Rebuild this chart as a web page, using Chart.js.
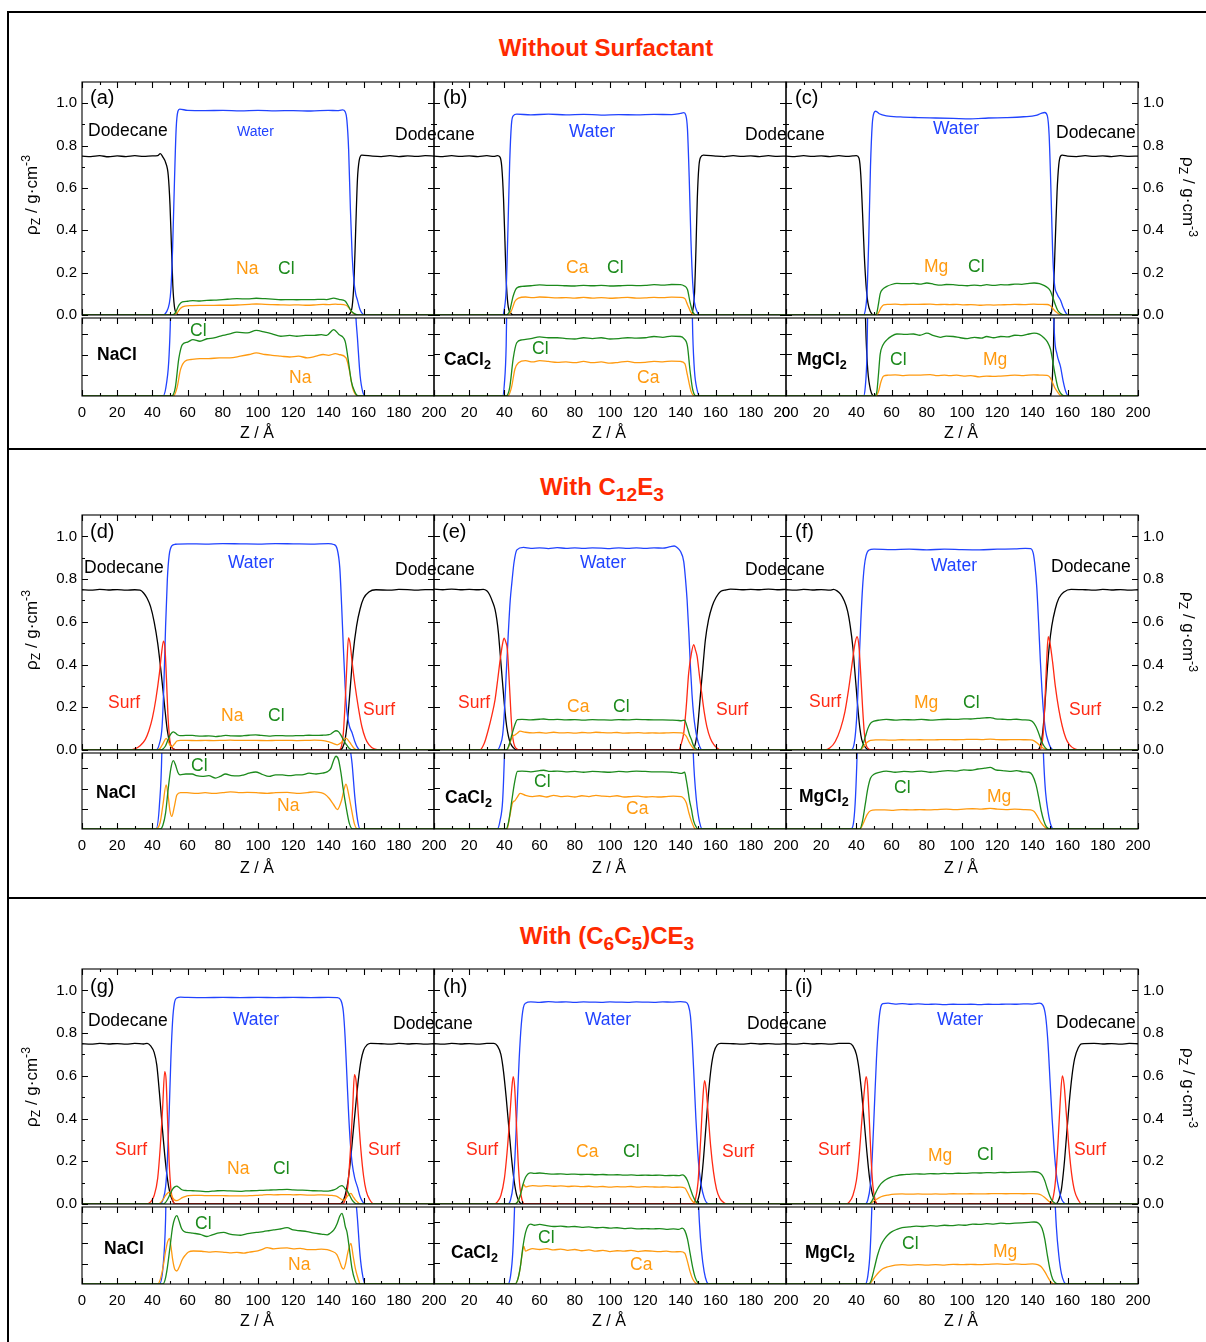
<!DOCTYPE html>
<html>
<head>
<meta charset="utf-8">
<script src="https://cdn.jsdelivr.net/npm/chart.js@4.4.1/dist/chart.umd.min.js"></script>
<style>
  body { margin: 0; background: #fff; }
  #page { position: relative; width: 1206px; height: 1342px; overflow: hidden; font-family: "Liberation Sans", Arial, sans-serif; }
  canvas { position: absolute; }
  .t { position: absolute; white-space: nowrap; line-height: 1; transform: translateY(-50%); font-size: 17.5px; }
  .c { transform: translate(-50%, -50%); }
  .rl { transform: translate(-50%, -50%) rotate(-90deg); font-size: 17px; }
  .rr { transform: translate(-50%, -50%) rotate(90deg); font-size: 17px; }
  .title { color: #ff2a00; font-weight: bold; font-size: 24px; }
  .title sub { font-size: 0.8em; vertical-align: -0.3em; line-height: 0; }
  sub { font-size: 0.72em; vertical-align: -0.3em; line-height: 0; }
  sup { font-size: 0.72em; vertical-align: 0.55em; line-height: 0; }
  .hl { position: absolute; background: #000; }
</style>
</head>
<body>
<div id="page"></div>
<script>
// ---- ticks ----
const zTicks = [0, 20, 40, 60, 80, 100, 120, 140, 160, 180, 200];
const zMinorTicks = [10, 30, 50, 70, 90, 110, 130, 150, 170, 190];
const rhoTicks = [0, 0.2, 0.4, 0.6, 0.8, 1.0];
const rhoMinorTicks = [0.1, 0.3, 0.5, 0.7, 0.9];
const subTicksNaCl = [0.025, 0.05, 0.075];
const subTicksDiv = [0.05, 0.1, 0.15];

// ---- (a) NaCl, no surfactant ----
const dodecaneA = [[0,0.75],[5,0.748],[10,0.752],[15,0.747],[20,0.751],[25,0.748],[30,0.752],[35,0.749],[40,0.751],[43,0.752],[44.5,0.762],[46,0.745],[47.5,0.72],[49,0.66],[50,0.52],[50.8,0.33],[51.6,0.14],[52.5,0.04],[54,0.005],[56,0],[151,0],[152.5,0.01],[153.5,0.04],[154.5,0.15],[155.5,0.4],[156.5,0.64],[157.5,0.73],[159,0.755],[165,0.75],[170,0.748],[175,0.752],[180,0.748],[185,0.751],[190,0.749],[195,0.752],[200,0.75]];
const waterA = [[0,0],[46,0],[48,0.015],[49.5,0.05],[50.5,0.12],[51.5,0.32],[52.5,0.62],[53.5,0.88],[54.5,0.962],[55.5,0.972],[60,0.966],[70,0.965],[80,0.966],[90,0.964],[100,0.966],[110,0.964],[120,0.965],[130,0.963],[140,0.966],[145,0.965],[148,0.968],[149.5,0.96],[150.5,0.92],[151.5,0.78],[152.5,0.5],[153.5,0.28],[154.5,0.16],[155.5,0.1],[156.5,0.07],[158,0.025],[159.5,0.005],[161,0],[200,0]];
const clA = [[0,0],[51,0],[53,0.01],[55,0.045],[57,0.062],[60,0.065],[63,0.068],[67,0.066],[71,0.069],[75,0.07],[80,0.073],[84,0.075],[88,0.077],[94,0.076],[99,0.079],[104,0.077],[108,0.075],[113,0.072],[118,0.073],[122,0.072],[127,0.073],[132,0.073],[136,0.074],[139,0.073],[143,0.08],[146,0.074],[149.5,0.066],[151.5,0.04],[153,0.018],[155,0.005],[157,0],[200,0]];
const naA = [[0,0],[52,0],[54,0.01],[56,0.032],[58.5,0.042],[62,0.044],[67,0.045],[72,0.045],[78,0.046],[84,0.046],[90,0.048],[95,0.05],[99,0.052],[104,0.05],[108,0.049],[113,0.048],[118,0.047],[123,0.048],[128,0.046],[133,0.048],[137,0.05],[140,0.049],[144,0.051],[146,0.05],[150,0.046],[152,0.03],[153.6,0.011],[155,0.003],[157,0],[200,0]];

// ---- (b) CaCl2, no surfactant ----
const dodecaneB = [[0,0.75],[5,0.748],[10,0.752],[15,0.749],[20,0.751],[25,0.748],[30,0.752],[34,0.749],[36,0.752],[37.5,0.745],[38.5,0.7],[39.5,0.55],[40.3,0.35],[41,0.17],[42,0.05],[43.5,0.01],[45,0],[146,0],[147,0.02],[148,0.1],[148.8,0.3],[149.6,0.55],[150.5,0.7],[151.5,0.745],[153,0.755],[160,0.75],[165,0.748],[170,0.752],[175,0.749],[180,0.751],[185,0.748],[190,0.752],[195,0.749],[200,0.75]];
const waterB = [[0,0],[39,0],[40,0.03],[41,0.12],[42,0.4],[43,0.72],[44,0.9],[45,0.94],[47,0.948],[55,0.945],[65,0.948],[75,0.945],[85,0.947],[95,0.944],[105,0.946],[115,0.945],[125,0.947],[135,0.946],[140,0.952],[142,0.955],[143,0.945],[144,0.88],[145,0.65],[146,0.35],[147,0.15],[148,0.06],[149.5,0.015],[151,0],[200,0]];
const clB = [[0,0],[41,0],[43,0.02],[45,0.09],[47,0.128],[50,0.135],[55,0.138],[60,0.142],[65,0.14],[70,0.14],[75,0.138],[80,0.137],[85,0.14],[90,0.138],[95,0.14],[100,0.137],[105,0.138],[110,0.14],[115,0.139],[120,0.14],[125,0.143],[130,0.141],[135,0.144],[140,0.143],[142,0.138],[144,0.12],[145.5,0.06],[147,0.015],[149,0],[200,0]];
const caB = [[0,0],[42,0],[44,0.02],[46,0.065],[48,0.08],[52,0.085],[56,0.082],[60,0.085],[65,0.083],[70,0.081],[75,0.082],[80,0.08],[85,0.083],[90,0.08],[95,0.082],[100,0.079],[105,0.081],[110,0.083],[115,0.08],[120,0.081],[125,0.083],[130,0.082],[135,0.084],[140,0.083],[142.5,0.078],[144,0.05],[146,0.012],[148,0],[200,0]];

// ---- (c) MgCl2, no surfactant ----
const dodecaneC = [[0,0.75],[5,0.748],[10,0.752],[15,0.749],[20,0.751],[25,0.748],[30,0.752],[35,0.749],[38,0.751],[40,0.752],[41.5,0.74],[42.5,0.66],[43.5,0.48],[44.5,0.28],[45.5,0.14],[46.5,0.06],[48,0.015],[50,0],[150,0],[151,0.02],[152,0.12],[153,0.35],[154,0.58],[155,0.71],[156,0.75],[157,0.755],[160,0.75],[165,0.748],[170,0.752],[175,0.749],[180,0.751],[185,0.748],[190,0.752],[195,0.749],[200,0.75]];
const waterC = [[0,0],[44,0],[45,0.02],[46,0.1],[47,0.35],[48,0.7],[49,0.9],[50,0.955],[51,0.962],[53,0.95],[57,0.94],[65,0.935],[75,0.932],[85,0.93],[95,0.928],[105,0.926],[115,0.93],[125,0.932],[135,0.936],[142,0.942],[145,0.952],[147,0.956],[148.5,0.94],[149.5,0.85],[150.5,0.6],[151.5,0.3],[152.5,0.15],[154,0.1],[156,0.07],[157.5,0.035],[159,0.01],[160.5,0],[200,0]];
const clC = [[0,0],[50.5,0],[51.6,0.01],[52.5,0.05],[53.5,0.1],[55,0.122],[57.3,0.135],[60,0.144],[63,0.149],[68,0.148],[72.5,0.149],[76,0.146],[80,0.151],[84,0.145],[87.7,0.141],[91,0.144],[95,0.143],[99,0.14],[103,0.138],[107,0.141],[111,0.139],[114,0.143],[118,0.14],[122,0.143],[126,0.142],[130,0.146],[134,0.145],[137,0.148],[141,0.151],[144,0.148],[146.5,0.14],[148.5,0.13],[150.3,0.112],[151.7,0.08],[153.1,0.047],[154.5,0.02],[156,0.007],[158.5,0],[200,0]];
const mgC = [[0,0],[51,0],[52.5,0.01],[54,0.035],[55.5,0.048],[58,0.05],[62,0.051],[66,0.049],[70,0.05],[75,0.05],[81.9,0.0515],[86,0.049],[90,0.05],[93,0.049],[97,0.05],[101,0.048],[105,0.049],[110,0.046],[114,0.048],[118,0.047],[122,0.048],[126,0.049],[130,0.05],[135,0.049],[140.8,0.051],[145,0.05],[148.4,0.0495],[150,0.045],[151.2,0.035],[152.7,0.02],[154.1,0.011],[155.5,0.003],[157,0],[200,0]];

// ---- (d) NaCl, C12E3 ----
const dodecaneD = [[0,0.75],[5,0.748],[10,0.752],[15,0.749],[20,0.751],[25,0.748],[30,0.75],[33,0.748],[35,0.735],[37,0.71],[39,0.67],[41,0.6],[43,0.5],[45,0.36],[47,0.2],[48.5,0.09],[50,0.03],[52,0.005],[55,0],[146,0],[148,0.01],[149.5,0.05],[151,0.15],[152.5,0.3],[154,0.45],[156,0.58],[158,0.66],[160,0.71],[163,0.74],[167,0.75],[175,0.748],[180,0.752],[185,0.751],[190,0.748],[195,0.751],[200,0.75]];
const waterD = [[0,0],[42,0],[44,0.03],[45.5,0.11],[46.5,0.3],[47.5,0.58],[48.5,0.8],[49.5,0.91],[51,0.955],[53,0.963],[60,0.965],[70,0.964],[80,0.966],[90,0.965],[100,0.964],[110,0.966],[120,0.965],[130,0.964],[140,0.966],[143,0.962],[145,0.94],[146.5,0.85],[147.5,0.68],[148.5,0.48],[149.5,0.3],[150.5,0.18],[152,0.11],[153.5,0.08],[155,0.04],[156.5,0.012],[158,0],[200,0]];
const surfD = [[0,0],[27,0],[30,0.005],[33,0.02],[36,0.05],[38,0.09],[40,0.15],[42,0.24],[44,0.36],[45.3,0.46],[46.3,0.51],[47.2,0.47],[48,0.33],[48.8,0.17],[49.6,0.07],[50.5,0.02],[52,0.005],[55,0],[146,0],[147.5,0.02],[148.5,0.08],[149.5,0.22],[150.5,0.4],[151.4,0.525],[152.3,0.5],[153.5,0.41],[155,0.31],[157,0.2],[159,0.11],[161,0.055],[163,0.025],[166,0.005],[170,0],[200,0]];
const clD = [[0,0],[44.5,0],[46,0.005],[47.5,0.02],[49,0.05],[50.5,0.075],[51.9,0.0845],[53,0.08],[54.5,0.07],[55.7,0.067],[59,0.068],[62.6,0.068],[65,0.066],[68.3,0.065],[72,0.066],[75.9,0.063],[78.5,0.065],[81.6,0.068],[85,0.066],[89.2,0.0656],[92,0.067],[94.9,0.069],[98.7,0.0705],[102,0.068],[106.3,0.065],[110,0.067],[113.9,0.0669],[118,0.066],[121.5,0.0669],[125,0.067],[129,0.069],[133,0.068],[136.6,0.069],[139.5,0.071],[141.4,0.075],[143,0.085],[144.3,0.09],[145.7,0.086],[147.1,0.07],[148.5,0.048],[150,0.028],[151.9,0.007],[153.8,0],[200,0]];
const naD = [[0,0],[42,0],[44.4,0.008],[46,0.03],[47.8,0.0546],[49,0.04],[50,0.022],[51,0.0155],[52.5,0.028],[53.9,0.042],[56,0.045],[59.6,0.045],[65,0.044],[70,0.045],[74.8,0.044],[80,0.045],[84.3,0.046],[89,0.045],[93.8,0.0452],[99,0.045],[105.2,0.044],[110,0.045],[116.6,0.0452],[122,0.044],[128,0.045],[132,0.046],[135.6,0.045],[138,0.043],[140.4,0.038],[143,0.03],[145.1,0.024],[147.4,0.035],[149,0.05],[150,0.0554],[151.3,0.045],[152.8,0.028],[154.7,0.007],[156.6,0],[200,0]];

// ---- (e) CaCl2, C12E3 ----
const dodecaneE = [[0,0.753],[5,0.75],[10,0.753],[15,0.75],[20,0.752],[25,0.75],[28,0.752],[30,0.745],[31.6,0.727],[33.2,0.695],[34.7,0.657],[35.7,0.61],[36.6,0.548],[37.5,0.46],[38.5,0.36],[39.5,0.26],[40.4,0.175],[41.3,0.11],[42.3,0.064],[43.5,0.03],[45.2,0.01],[47,0],[147,0],[148.5,0.03],[149.5,0.08],[150.6,0.18],[151.8,0.298],[153,0.41],[154.2,0.516],[156,0.61],[158,0.672],[160.3,0.715],[162.8,0.742],[166,0.75],[168.5,0.753],[175,0.75],[180,0.752],[185,0.75],[190,0.753],[195,0.75],[200,0.752]];
const waterE = [[0,0],[36,0],[37.5,0.02],[39,0.07],[40,0.18],[41,0.35],[42.3,0.56],[43.3,0.7],[44.2,0.78],[45.5,0.88],[47.1,0.937],[50.8,0.948],[55,0.944],[60,0.946],[65,0.943],[70,0.947],[75,0.944],[80,0.946],[85,0.944],[90,0.946],[95,0.945],[100,0.943],[105,0.946],[110,0.944],[115,0.946],[120,0.944],[125,0.946],[130,0.945],[134.3,0.952],[136.5,0.955],[138.1,0.948],[140,0.93],[141.9,0.882],[142.9,0.8],[143.8,0.703],[144.8,0.55],[145.7,0.39],[146.6,0.26],[147.6,0.158],[148.5,0.1],[149.5,0.055],[151,0.015],[152.4,0],[200,0]];
const surfE = [[0,0],[26,0],[28.5,0.03],[30.9,0.096],[32.8,0.16],[34.7,0.236],[36.2,0.33],[37.6,0.423],[38.8,0.49],[39.8,0.524],[40.8,0.505],[41.7,0.47],[42.5,0.36],[43.3,0.236],[44,0.13],[44.8,0.055],[46,0.015],[47.1,0.005],[49,0],[139,0],[140.5,0.03],[141.9,0.08],[143.3,0.2],[144.7,0.36],[146.2,0.45],[147.6,0.493],[148.5,0.47],[149.5,0.438],[150.8,0.35],[152.1,0.267],[153.5,0.18],[155,0.111],[157,0.055],[159,0.025],[161,0.008],[163,0],[200,0]];
const clE = [[0,0],[41,0],[42.5,0.02],[44.2,0.07],[45.8,0.115],[47.4,0.142],[50,0.143],[55,0.141],[60,0.144],[62.3,0.145],[66,0.142],[70,0.143],[75,0.141],[80,0.142],[85,0.14],[90,0.142],[95,0.141],[100,0.14],[105,0.142],[110,0.141],[115,0.143],[120,0.142],[125,0.141],[130,0.141],[135,0.14],[138,0.139],[140.5,0.137],[142.4,0.14],[143.4,0.12],[144.3,0.096],[145.2,0.07],[146.2,0.05],[147.5,0.02],[149,0.005],[150,0],[200,0]];
const caE = [[0,0],[41.5,0],[43,0.03],[44.6,0.064],[46,0.07],[47.5,0.08],[48.9,0.088],[52,0.083],[56,0.08],[60,0.082],[64,0.079],[68,0.083],[72,0.08],[76,0.081],[80,0.079],[84,0.082],[88,0.08],[92,0.083],[96,0.081],[100,0.08],[104,0.082],[108,0.079],[112,0.08],[116,0.081],[120,0.079],[124,0.08],[128,0.079],[132,0.08],[136,0.081],[140.5,0.08],[142,0.075],[143.4,0.064],[144.8,0.04],[146.2,0.02],[147.5,0.006],[148.5,0],[200,0]];

// ---- (f) MgCl2, C12E3 ----
const dodecaneF = [[0,0.75],[5,0.748],[10,0.752],[15,0.749],[20,0.751],[25,0.748],[27,0.752],[29,0.745],[31,0.73],[33,0.7],[35,0.65],[36.5,0.58],[38,0.48],[39,0.38],[40,0.28],[41,0.18],[42,0.1],[43,0.05],[44.5,0.02],[46,0.005],[48,0],[143,0],[144.5,0.02],[145.5,0.06],[146.5,0.14],[147.5,0.26],[148.5,0.38],[149.5,0.48],[151,0.58],[153,0.66],[155,0.71],[158,0.74],[162,0.752],[170,0.75],[175,0.748],[180,0.752],[185,0.749],[190,0.751],[195,0.748],[200,0.75]];
const waterF = [[0,0],[37,0],[38.5,0.02],[39.5,0.08],[40.5,0.2],[41.5,0.4],[42.5,0.6],[43.5,0.76],[44.5,0.86],[45.5,0.91],[47,0.935],[50,0.94],[60,0.938],[70,0.94],[80,0.937],[90,0.94],[100,0.938],[110,0.937],[120,0.94],[130,0.941],[136,0.944],[139,0.943],[140.5,0.92],[141.5,0.86],[142.5,0.76],[143.5,0.6],[144.5,0.42],[145.5,0.27],[146.5,0.16],[147.5,0.09],[149,0.04],[150.5,0.01],[152,0],[200,0]];
const surfF = [[0,0],[22,0],[25,0.01],[28,0.04],[31,0.1],[33.5,0.18],[35.5,0.28],[37.5,0.4],[39,0.49],[40.4,0.53],[41.5,0.48],[42.5,0.35],[43.5,0.2],[44.5,0.08],[45.5,0.025],[47,0.005],[49,0],[144,0],[145.5,0.03],[146.5,0.12],[147.5,0.3],[148.3,0.45],[149,0.53],[150,0.5],[151.5,0.41],[153,0.3],[155,0.19],[157,0.11],[159,0.055],[161,0.025],[164,0.005],[167,0],[200,0]];
const clF = [[0,0],[42,0],[43.5,0.02],[45,0.06],[46.5,0.1],[48,0.125],[50,0.135],[53,0.14],[57,0.143],[62,0.14],[67,0.142],[72,0.141],[77,0.143],[82,0.14],[87,0.142],[92,0.144],[97,0.143],[101,0.146],[105,0.145],[109,0.148],[113,0.15],[116,0.152],[119,0.146],[123,0.144],[127,0.142],[131,0.144],[135,0.141],[138,0.14],[140,0.133],[142,0.11],[143.5,0.08],[145,0.045],[146.5,0.02],[148,0.005],[150,0],[200,0]];
const mgF = [[0,0],[42,0],[44,0.015],[46,0.035],[48,0.045],[51,0.047],[56,0.047],[61,0.046],[66,0.048],[71,0.047],[76,0.048],[81,0.047],[86,0.048],[91,0.049],[96,0.048],[101,0.049],[106,0.05],[111,0.049],[116,0.051],[120,0.049],[125,0.048],[130,0.049],[135,0.048],[139,0.047],[141,0.043],[143,0.03],[145,0.015],[147,0.005],[149,0],[200,0]];

// ---- (g) NaCl, (C6C5)CE3 ----
const dodecaneG = [[0,0.75],[5,0.748],[10,0.752],[15,0.749],[20,0.751],[25,0.748],[30,0.752],[35,0.749],[37,0.752],[39,0.74],[41,0.71],[42.5,0.65],[44,0.52],[45.5,0.37],[47,0.23],[48.5,0.12],[50,0.05],[51.5,0.015],[53,0],[146,0],[148,0.01],[149.5,0.04],[151,0.1],[152.5,0.2],[154,0.33],[155.5,0.46],[157,0.58],[158.5,0.67],[160,0.72],[162,0.745],[164,0.752],[170,0.75],[175,0.748],[180,0.752],[185,0.749],[190,0.751],[195,0.748],[200,0.75]];
const waterG = [[0,0],[44,0],[46,0.02],[47.5,0.08],[48.5,0.2],[49.5,0.42],[50.5,0.68],[51.5,0.86],[52.5,0.94],[54,0.965],[56,0.968],[60,0.967],[70,0.966],[80,0.967],[90,0.966],[100,0.967],[110,0.966],[120,0.967],[130,0.966],[140,0.967],[145,0.966],[147,0.955],[148.5,0.9],[149.5,0.78],[150.5,0.6],[151.5,0.42],[152.5,0.28],[153.5,0.19],[155,0.12],[156.5,0.08],[158,0.035],[159.5,0.01],[161,0],[200,0]];
const surfG = [[0,0],[36,0],[39,0.01],[41,0.04],[43,0.12],[44.5,0.27],[45.8,0.45],[47,0.62],[47.8,0.58],[48.6,0.4],[49.5,0.2],[50.5,0.07],[51.5,0.02],[53,0],[148,0],[149.5,0.02],[151,0.08],[152.5,0.25],[153.8,0.45],[154.8,0.605],[155.8,0.57],[157,0.42],[158.5,0.25],[160,0.13],[161.5,0.06],[163.5,0.02],[166,0],[200,0]];
const clG = [[0,0],[46,0],[47.2,0.005],[48.5,0.02],[50,0.045],[51.5,0.07],[52.7,0.08],[53.9,0.0834],[55,0.078],[56.5,0.068],[58,0.064],[59.6,0.063],[63,0.062],[67.2,0.0607],[71,0.058],[74,0.06],[77,0.062],[80.5,0.063],[84,0.061],[87,0.06],[90,0.0595],[93,0.061],[96,0.062],[99.4,0.063],[103,0.064],[106,0.065],[108.9,0.066],[112,0.067],[116.5,0.0687],[120,0.066],[124,0.065],[127.9,0.064],[132,0.062],[136,0.061],[139.3,0.06],[141,0.062],[143.1,0.066],[145,0.074],[146.5,0.083],[147.7,0.0863],[148.7,0.08],[149.6,0.07],[150.6,0.063],[151.8,0.045],[153.4,0.019],[155,0.005],[156.3,0],[200,0]];
const naG = [[0,0],[43,0],[44.4,0.005],[46,0.02],[47.5,0.04],[48.7,0.052],[49.7,0.0558],[50.6,0.045],[51.5,0.03],[52.7,0.018],[53.9,0.0159],[55.5,0.022],[57,0.03],[58.6,0.035],[60.5,0.039],[63.3,0.0403],[68,0.04],[72,0.039],[76,0.0395],[80,0.039],[84,0.038],[88,0.0385],[91.9,0.0378],[95,0.039],[99,0.04],[102,0.042],[105.2,0.0443],[109,0.043],[113,0.0437],[116.5,0.044],[120,0.043],[124,0.0435],[127.9,0.042],[132,0.042],[136,0.0425],[139.3,0.042],[142,0.04],[144.8,0.0358],[146.5,0.027],[147.7,0.02],[148.7,0.0183],[149.8,0.025],[151,0.038],[152.8,0.0497],[154,0.035],[155.3,0.019],[156.8,0.007],[158.1,0],[200,0]];

// ---- (h) CaCl2, (C6C5)CE3 ----
const dodecaneH = [[0,0.75],[5,0.748],[10,0.752],[15,0.749],[20,0.751],[25,0.748],[30,0.752],[34,0.752],[36,0.74],[38,0.7],[39.5,0.62],[41,0.5],[42.5,0.36],[44,0.22],[45.5,0.11],[47,0.04],[48.5,0.01],[50,0],[148,0],[150,0.02],[151.5,0.08],[153,0.2],[154.5,0.36],[156,0.52],[157.5,0.64],[159,0.71],[161,0.745],[163,0.752],[170,0.75],[175,0.748],[180,0.752],[185,0.749],[190,0.751],[195,0.748],[200,0.75]];
const waterH = [[0,0],[42,0],[43.5,0.02],[44.8,0.08],[46,0.22],[47.2,0.45],[48.4,0.68],[49.6,0.84],[50.8,0.92],[52,0.94],[55,0.946],[60,0.944],[65,0.947],[70,0.945],[75,0.946],[80,0.944],[85,0.946],[90,0.945],[95,0.944],[100,0.946],[105,0.945],[110,0.944],[115,0.946],[120,0.945],[125,0.944],[130,0.946],[135,0.945],[140,0.947],[143,0.945],[144.5,0.93],[145.7,0.88],[146.8,0.75],[147.8,0.58],[148.8,0.4],[149.8,0.25],[150.8,0.15],[152,0.08],[153.5,0.03],[155,0.005],[156.5,0],[200,0]];
const surfH = [[0,0],[34,0],[36,0.01],[38,0.04],[40,0.12],[41.5,0.24],[43,0.4],[44.2,0.54],[45,0.596],[45.8,0.55],[46.8,0.38],[47.8,0.2],[48.8,0.08],[50,0.02],[51.5,0],[147,0],[148.5,0.02],[150,0.1],[151.5,0.3],[152.8,0.5],[153.7,0.577],[154.6,0.54],[155.8,0.42],[157.2,0.27],[158.8,0.15],[160.5,0.07],[162.5,0.025],[165,0.005],[167,0],[200,0]];
const clH = [[0,0],[46,0],[47.5,0.01],[49,0.04],[50.5,0.09],[52,0.125],[53.5,0.142],[55,0.146],[57,0.143],[60,0.145],[64,0.142],[68,0.14],[72,0.141],[76,0.139],[80,0.14],[84,0.138],[88,0.139],[92,0.137],[96,0.138],[100,0.136],[104,0.137],[108,0.135],[112,0.136],[116,0.134],[120,0.135],[124,0.134],[128,0.135],[132,0.133],[136,0.134],[139,0.133],[141,0.136],[142.5,0.13],[144,0.11],[145.5,0.075],[147,0.04],[148.5,0.015],[150,0.003],[151.5,0],[200,0]];
const caH = [[0,0],[46,0],[47.5,0.01],[49,0.04],[50,0.07],[51,0.092],[52,0.08],[53.5,0.083],[56,0.086],[60,0.084],[64,0.086],[68,0.083],[72,0.085],[76,0.082],[80,0.084],[84,0.081],[88,0.083],[92,0.08],[96,0.082],[100,0.079],[104,0.081],[108,0.08],[112,0.082],[116,0.079],[120,0.081],[124,0.08],[128,0.079],[132,0.08],[136,0.078],[140,0.079],[142.5,0.075],[144,0.055],[145.5,0.03],[147,0.012],[148.5,0.003],[150,0],[200,0]];

// ---- (i) MgCl2, (C6C5)CE3 ----
const dodecaneI = [[0,0.75],[5,0.748],[10,0.752],[15,0.749],[20,0.751],[25,0.748],[30,0.752],[36,0.752],[38,0.74],[40,0.7],[41.5,0.63],[43,0.52],[44.5,0.38],[46,0.24],[47.5,0.12],[49,0.05],[50.5,0.015],[52,0],[153,0],[155,0.02],[156.5,0.07],[158,0.18],[159.5,0.33],[161,0.48],[162.5,0.6],[164,0.68],[166,0.73],[168,0.75],[175,0.752],[180,0.749],[185,0.751],[190,0.748],[195,0.752],[200,0.75]];
const waterI = [[0,0],[45,0],[46.5,0.02],[47.8,0.08],[49,0.22],[50.2,0.45],[51.4,0.68],[52.6,0.84],[53.8,0.92],[55,0.938],[58,0.94],[62,0.936],[66,0.938],[70,0.935],[75,0.937],[80,0.934],[85,0.936],[90,0.933],[95,0.935],[100,0.934],[105,0.935],[110,0.933],[115,0.935],[120,0.934],[125,0.936],[130,0.935],[135,0.937],[140,0.936],[144,0.94],[146,0.93],[147.5,0.88],[148.8,0.76],[150,0.58],[151.2,0.4],[152.4,0.25],[153.6,0.14],[155,0.07],[156.5,0.025],[158,0.005],[159.5,0],[200,0]];
const surfI = [[0,0],[34,0],[36,0.01],[38,0.04],[40,0.11],[41.5,0.22],[43,0.38],[44.5,0.53],[45.5,0.596],[46.3,0.56],[47.3,0.4],[48.3,0.22],[49.3,0.09],[50.5,0.025],[52,0],[150,0],[151.5,0.02],[153,0.1],[154.5,0.28],[155.8,0.48],[157,0.6],[158,0.56],[159.3,0.42],[160.8,0.26],[162.3,0.14],[164,0.06],[166,0.02],[168,0],[200,0]];
const clI = [[0,0],[47,0],[48.5,0.01],[50,0.035],[52,0.07],[54,0.095],[56,0.11],[58,0.12],[60,0.127],[63,0.133],[66,0.137],[70,0.139],[74,0.141],[78,0.14],[82,0.142],[86,0.141],[90,0.143],[94,0.142],[98,0.144],[102,0.143],[106,0.146],[110,0.145],[114,0.147],[118,0.146],[122,0.148],[126,0.147],[130,0.148],[134,0.149],[138,0.15],[141,0.151],[143.5,0.148],[145.5,0.135],[147,0.11],[148.5,0.07],[150,0.035],[151.5,0.012],[153,0.003],[154.5,0],[200,0]];
const mgI = [[0,0],[47.5,0],[49,0.008],[51,0.02],[53,0.03],[55,0.037],[58,0.042],[62,0.046],[66,0.047],[70,0.046],[75,0.047],[80,0.046],[85,0.047],[90,0.046],[95,0.048],[100,0.047],[105,0.048],[110,0.047],[115,0.048],[120,0.049],[125,0.048],[130,0.049],[135,0.048],[140,0.049],[143,0.047],[145,0.042],[147,0.03],[149,0.015],[150.5,0.005],[152,0],[200,0]];

const BLUE = '#2143ff', RED = '#ff2a14', ORANGE = '#ff9a10', GREEN = '#1c8a1c';

const panels = [
  { row: 0, col: 0, dodecane: dodecaneA, water: waterA, surf: null, cation: naA, cl: clA, subMax: 0.094, subTicks: subTicksNaCl },
  { row: 0, col: 1, dodecane: dodecaneB, water: waterB, surf: null, cation: caB, cl: clB, subMax: 0.1875, subTicks: subTicksDiv },
  { row: 0, col: 2, dodecane: dodecaneC, water: waterC, surf: null, cation: mgC, cl: clC, subMax: 0.1875, subTicks: subTicksDiv, showZero: true, subDodecane: true },
  { row: 1, col: 0, dodecane: dodecaneD, water: waterD, surf: surfD, cation: naD, cl: clD, subMax: 0.094, subTicks: subTicksNaCl },
  { row: 1, col: 1, dodecane: dodecaneE, water: waterE, surf: surfE, cation: caE, cl: clE, subMax: 0.1875, subTicks: subTicksDiv },
  { row: 1, col: 2, dodecane: dodecaneF, water: waterF, surf: surfF, cation: mgF, cl: clF, subMax: 0.1875, subTicks: subTicksDiv },
  { row: 2, col: 0, dodecane: dodecaneG, water: waterG, surf: surfG, cation: naG, cl: clG, subMax: 0.094, subTicks: subTicksNaCl },
  { row: 2, col: 1, dodecane: dodecaneH, water: waterH, surf: surfH, cation: caH, cl: clH, subMax: 0.1875, subTicks: subTicksDiv },
  { row: 2, col: 2, dodecane: dodecaneI, water: waterI, surf: surfI, cation: mgI, cl: clI, subMax: 0.1875, subTicks: subTicksDiv },
];

// page geometry
const rows = [
  { mainTop: 82, mainBottom: 315, subTop: 318, subBottom: 396 },
  { mainTop: 515, mainBottom: 750, subTop: 753, subBottom: 829 },
  { mainTop: 969, mainBottom: 1204, subTop: 1207, subBottom: 1284 },
];
const colLeft = [82, 434, 786];
const plotW = 352;
const page = document.getElementById('page');

// frame, inward ticks and tick labels, placed with the chart's own scales
const panelAxes = {
  id: 'panelAxes',
  afterDraw(chart, args, o) {
    const { ctx, chartArea: a } = chart;
    const x = chart.scales.x, y = chart.scales.y;
    ctx.save();
    ctx.strokeStyle = '#000';
    ctx.lineWidth = 1.1;
    ctx.strokeRect(a.left, a.top, a.right - a.left, a.bottom - a.top);
    ctx.beginPath();
    const vt = (v, len) => {
      const px = Math.round(x.getPixelForValue(v)) + 0.5;
      ctx.moveTo(px, a.bottom); ctx.lineTo(px, a.bottom - len);
      ctx.moveTo(px, a.top); ctx.lineTo(px, a.top + len);
    };
    const ht = (v, len) => {
      const py = Math.round(y.getPixelForValue(v)) + 0.5;
      ctx.moveTo(a.left, py); ctx.lineTo(a.left + len, py);
      ctx.moveTo(a.right, py); ctx.lineTo(a.right - len, py);
    };
    zTicks.forEach(v => vt(v, 6));
    zMinorTicks.forEach(v => vt(v, 3));
    o.yMajor.forEach(v => ht(v, 6));
    (o.yMinor || []).forEach(v => ht(v, 3));
    ctx.stroke();

    ctx.fillStyle = '#000';
    ctx.font = '15px "Liberation Sans", Arial, sans-serif';
    ctx.textBaseline = 'middle';
    if (o.xLabels) {
      ctx.textAlign = 'center';
      zTicks.forEach(v => {
        if (v === 0 && !o.showZero) return;
        ctx.fillText(String(v), x.getPixelForValue(v), a.bottom + 17);
      });
    }
    if (o.yLabels) {
      ctx.textAlign = o.yLabels === 'left' ? 'right' : 'left';
      const lx = o.yLabels === 'left' ? a.left - 5 : a.right + 5;
      rhoTicks.forEach(v => ctx.fillText(v.toFixed(1), lx, y.getPixelForValue(v)));
    }
    ctx.restore();
  }
};

// Cl is listed first so that it is drawn on top
function buildDatasets(p, magnified) {
  const list = [
    { label: 'Cl', data: p.cl.slice(), borderColor: GREEN },
    { label: 'cation', data: p.cation.slice(), borderColor: ORANGE },
  ];
  if (p.surf && !magnified) list.push({ label: 'Surf', data: p.surf.slice(), borderColor: RED });
  list.push({ label: 'Water', data: p.water.slice(), borderColor: BLUE });
  if (!magnified || p.subDodecane) list.push({ label: 'Dodecane', data: p.dodecane.slice(), borderColor: '#000' });
  return list.map(d => Object.assign(d, {
    borderWidth: 1.3, pointRadius: 0, fill: false, cubicInterpolationMode: 'monotone'
  }));
}

function makeChart(left, top, w, h, pad, datasets, yMax, axesOpts) {
  const cv = document.createElement('canvas');
  cv.width = w; cv.height = h;
  cv.style.left = left + 'px'; cv.style.top = top + 'px';
  cv.style.width = w + 'px'; cv.style.height = h + 'px';
  page.appendChild(cv);
  return new Chart(cv, {
    type: 'line',
    data: { datasets },
    options: {
      responsive: false,
      animation: false,
      events: [],
      layout: { padding: pad },
      plugins: { legend: { display: false }, tooltip: { enabled: false }, panelAxes: axesOpts },
      scales: {
        x: { type: 'linear', min: 0, max: 200, display: false },
        y: { type: 'linear', min: 0, max: yMax, display: false }
      }
    },
    plugins: [panelAxes]
  });
}

panels.forEach(p => {
  const r = rows[p.row];
  const left = colLeft[p.col];
  // main profile panel
  const mainH = r.mainBottom - r.mainTop;
  makeChart(left - 50, r.mainTop - 10, plotW + 100, mainH + 20,
    { left: 50, right: 50, top: 10, bottom: 10 },
    buildDatasets(p, false), 1.1,
    { yMajor: rhoTicks, yMinor: rhoMinorTicks, yLabels: p.col === 0 ? 'left' : (p.col === 2 ? 'right' : null) });
  // magnified ion panel
  const subH = r.subBottom - r.subTop;
  makeChart(left - 20, r.subTop - 5, plotW + 40, subH + 35,
    { left: 20, right: 20, top: 5, bottom: 30 },
    buildDatasets(p, true), p.subMax,
    { yMajor: p.subTicks, xLabels: true, showZero: p.col === 0 || p.showZero });
});

// ---- text ----
function text(html, x, y, cls, style) {
  const d = document.createElement('div');
  d.className = 't ' + (cls || '');
  d.innerHTML = html;
  d.style.left = x + 'px';
  d.style.top = y + 'px';
  if (style) Object.assign(d.style, style);
  page.appendChild(d);
}
function line(x, y, w, h) {
  const d = document.createElement('div');
  d.className = 'hl';
  Object.assign(d.style, { left: x + 'px', top: y + 'px', width: w + 'px', height: h + 'px' });
  page.appendChild(d);
}

line(8, 11, 1198, 2);
line(8, 448, 1198, 2);
line(8, 897, 1198, 2);
line(7, 11, 2, 1331);

text('Without Surfactant', 606, 48, 'c title');
text('With C<sub>12</sub>E<sub>3</sub>', 602, 487, 'c title');
text('With (C<sub>6</sub>C<sub>5</sub>)CE<sub>3</sub>', 607, 936, 'c title');

const rhoLabel = 'ρ<sub>Z</sub> / g·cm<sup>-3</sup>';
[[195, 197], [630, 632], [1087, 1088]].forEach(([yl, yr]) => {
  text(rhoLabel, 31, yl, 'rl');
  text(rhoLabel, 1188, yr, 'rr');
});
[433, 868, 1321].forEach(yz => {
  [257, 609, 961].forEach(xz => text('Z / Å', xz, yz, 'c', { fontSize: '16px' }));
});

const black = { color: '#000' }, blue = { color: BLUE }, red = { color: RED }, orange = { color: ORANGE }, green = { color: GREEN };
const big = { fontSize: '20px' };
const bold = { fontWeight: 'bold' };

// row 1
text('(a)', 90, 97, '', big); text('(b)', 443, 97, '', big); text('(c)', 795, 97, '', big);
text('Dodecane', 88, 131, '', black); text('Water', 237, 131, '', Object.assign({ fontSize: '14px' }, blue));
text('Dodecane', 395, 135, '', black); text('Water', 569, 132, '', blue);
text('Dodecane', 745, 135, '', black); text('Water', 933, 129, '', blue); text('Dodecane', 1056, 133, '', black);
text('Na', 236, 269, '', orange); text('Cl', 278, 269, '', green);
text('Ca', 566, 268, '', orange); text('Cl', 607, 268, '', green);
text('Mg', 924, 267, '', orange); text('Cl', 968, 267, '', green);
text('NaCl', 97, 355, '', bold); text('Cl', 190, 331, '', green); text('Na', 289, 378, '', orange);
text('CaCl<sub>2</sub>', 444, 360, '', bold); text('Cl', 532, 349, '', green); text('Ca', 637, 378, '', orange);
text('MgCl<sub>2</sub>', 797, 360, '', bold); text('Cl', 890, 360, '', green); text('Mg', 983, 360, '', orange);

// row 2
text('(d)', 90, 531, '', big); text('(e)', 442, 531, '', big); text('(f)', 795, 531, '', big);
text('Dodecane', 84, 568, '', black); text('Water', 228, 563, '', blue);
text('Dodecane', 395, 570, '', black); text('Water', 580, 563, '', blue);
text('Dodecane', 745, 570, '', black); text('Water', 931, 566, '', blue); text('Dodecane', 1051, 567, '', black);
text('Surf', 108, 703, '', red); text('Na', 221, 716, '', orange); text('Cl', 268, 716, '', green); text('Surf', 363, 710, '', red);
text('Surf', 458, 703, '', red); text('Ca', 567, 707, '', orange); text('Cl', 613, 707, '', green); text('Surf', 716, 710, '', red);
text('Surf', 809, 702, '', red); text('Mg', 914, 703, '', orange); text('Cl', 963, 703, '', green); text('Surf', 1069, 710, '', red);
text('NaCl', 96, 793, '', bold); text('Cl', 191, 766, '', green); text('Na', 277, 806, '', orange);
text('CaCl<sub>2</sub>', 445, 798, '', bold); text('Cl', 534, 782, '', green); text('Ca', 626, 809, '', orange);
text('MgCl<sub>2</sub>', 799, 797, '', bold); text('Cl', 894, 788, '', green); text('Mg', 987, 797, '', orange);

// row 3
text('(g)', 90, 986, '', big); text('(h)', 443, 986, '', big); text('(i)', 795, 986, '', big);
text('Dodecane', 88, 1021, '', black); text('Water', 233, 1020, '', blue);
text('Dodecane', 393, 1024, '', black); text('Water', 585, 1020, '', blue);
text('Dodecane', 747, 1024, '', black); text('Water', 937, 1020, '', blue); text('Dodecane', 1056, 1023, '', black);
text('Surf', 115, 1150, '', red); text('Na', 227, 1169, '', orange); text('Cl', 273, 1169, '', green); text('Surf', 368, 1150, '', red);
text('Surf', 466, 1150, '', red); text('Ca', 576, 1152, '', orange); text('Cl', 623, 1152, '', green); text('Surf', 722, 1152, '', red);
text('Surf', 818, 1150, '', red); text('Mg', 928, 1156, '', orange); text('Cl', 977, 1155, '', green); text('Surf', 1074, 1150, '', red);
text('NaCl', 104, 1249, '', bold); text('Cl', 195, 1224, '', green); text('Na', 288, 1265, '', orange);
text('CaCl<sub>2</sub>', 451, 1253, '', bold); text('Cl', 538, 1238, '', green); text('Ca', 630, 1265, '', orange);
text('MgCl<sub>2</sub>', 805, 1253, '', bold); text('Cl', 902, 1244, '', green); text('Mg', 993, 1252, '', orange);
</script>
</body>
</html>
